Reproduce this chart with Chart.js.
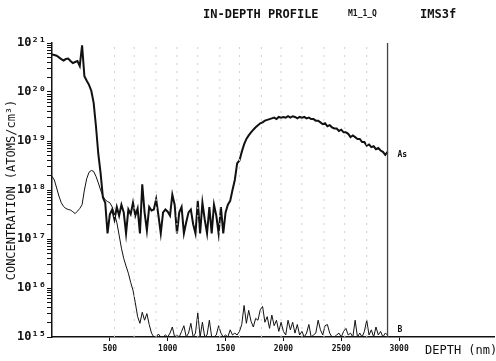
<!DOCTYPE html>
<html>
<head>
<meta charset="UTF-8">
<title>IN-DEPTH PROFILE</title>
<script src="https://cdn.jsdelivr.net/npm/chart.js"></script>
<style>
  body { margin: 0; background: #fff; }
  #wrap { position: relative; width: 496px; height: 361px; }
  .txt { position: absolute; font-family: 'DejaVu Sans Mono', monospace; color: #111; white-space: nowrap; line-height: 1; }
  #t1 { left: 203px; top: 8px; font-size: 12px; font-weight: bold; }
  #t2 { left: 348px; top: 10px; font-size: 8px; font-weight: bold; }
  #t3 { left: 420px; top: 8px; font-size: 12px; font-weight: bold; }
  #xt { left: 425px; top: 344px; font-size: 12px; }
</style>
</head>
<body>
<div id="wrap">
  <canvas id="profile"></canvas>
  <div class="txt" id="t1">IN-DEPTH PROFILE</div>
  <div class="txt" id="t2">M1_1_Q</div>
  <div class="txt" id="t3">IMS3f</div>
  <div class="txt" id="xt">DEPTH (nm)</div>
</div>

<script>
  // depth grid (nm), 20 nm steps
  const depth = [
    0, 20, 40, 60, 80, 100, 120, 140, 160, 180,
    200, 220, 240, 260, 280, 300, 320, 340, 360, 380,
    400, 420, 440, 460, 480, 500, 520, 540, 560, 580,
    600, 620, 640, 660, 680, 700, 720, 740, 760, 780,
    800, 820, 840, 860, 880, 900, 920, 940, 960, 980,
    1000, 1020, 1040, 1060, 1080, 1100, 1120, 1140, 1160, 1180,
    1200, 1220, 1240, 1260, 1280, 1300, 1320, 1340, 1360, 1380,
    1400, 1420, 1440, 1460, 1480, 1500, 1520, 1540, 1560, 1580,
    1600, 1620, 1640, 1660, 1680, 1700, 1720, 1740, 1760, 1780,
    1800, 1820, 1840, 1860, 1880, 1900, 1920, 1940, 1960, 1980,
    2000, 2020, 2040, 2060, 2080, 2100, 2120, 2140, 2160, 2180,
    2200, 2220, 2240, 2260, 2280, 2300, 2320, 2340, 2360, 2380,
    2400, 2420, 2440, 2460, 2480, 2500, 2520, 2540, 2560, 2580,
    2600, 2620, 2640, 2660, 2680, 2700, 2720, 2740, 2760, 2780,
    2800, 2820, 2840, 2860, 2880, 2900
  ];

  // As concentration (atoms/cm3)
  const arsenic = [
    5.8e20, 5.7e20, 5.5e20, 5.1e20, 4.7e20, 4.4e20, 4.7e20, 4.8e20, 4.3e20, 3.9e20,
    4.1e20, 4.3e20, 3.4e20, 9.0e20, 2.1e20, 1.7e20, 1.4e20, 1.05e20, 6.0e19, 2.0e19,
    5.5e18, 2.2e18, 7.0e17, 5.5e17, 1.3e17, 3.2e17, 4.0e17, 2.5e17, 4.5e17, 3.0e17,
    5.0e17, 3.5e17, 1.3e17, 4.0e17, 3.2e17, 5.5e17, 3.0e17, 4.2e17, 1.3e17, 1.3e18,
    3.5e17, 1.5e17, 4.5e17, 3.8e17, 4.0e17, 6.5e17, 3.0e17, 1.3e17, 3.5e17, 4.0e17,
    3.6e17, 3.0e17, 8.0e17, 5.0e17, 1.3e17, 3.5e17, 4.5e17, 1.3e17, 2.2e17, 3.5e17,
    4.0e17, 2.0e17, 1.3e17, 6.0e17, 1.3e17, 5.5e17, 2.5e17, 1.3e17, 4.5e17, 1.3e17,
    5.0e17, 3.0e17, 1.3e17, 4.5e17, 1.3e17, 3.5e17, 5.0e17, 6.0e17, 1.0e18, 1.6e18,
    3.5e18, 4.0e18, 6.0e18, 8.5e18, 1.1e19, 1.3e19, 1.5e19, 1.7e19, 1.9e19, 2.1e19,
    2.3e19, 2.4e19, 2.6e19, 2.7e19, 2.8e19, 2.9e19, 3.0e19, 2.8e19, 3.1e19, 3.0e19,
    3.1e19, 3.0e19, 3.2e19, 3.0e19, 3.2e19, 3.1e19, 2.9e19, 3.1e19, 3.0e19, 3.1e19,
    2.9e19, 3.0e19, 2.8e19, 2.8e19, 2.6e19, 2.6e19, 2.4e19, 2.2e19, 2.3e19, 2.0e19,
    2.1e19, 1.9e19, 1.8e19, 1.8e19, 1.6e19, 1.7e19, 1.5e19, 1.5e19, 1.4e19, 1.2e19,
    1.3e19, 1.2e19, 1.1e19, 1.1e19, 9.5e18, 9.5e18, 8.0e18, 8.5e18, 7.5e18, 7.8e18,
    6.8e18, 7.2e18, 6.4e18, 6.0e18, 5.2e18, 6.0e18
  ];

  // B concentration (atoms/cm3)
  const boron = [
    1.9e18, 1.6e18, 1.1e18, 7.5e17, 5.5e17, 4.6e17, 4.2e17, 4.0e17, 3.9e17, 3.6e17,
    3.3e17, 3.7e17, 4.2e17, 5.0e17, 1.0e18, 1.7e18, 2.3e18, 2.5e18, 2.4e18, 1.9e18,
    1.4e18, 1.0e18, 7.5e17, 6.3e17, 5.8e17, 5.5e17, 4.5e17, 3.2e17, 2.2e17, 1.2e17,
    6.5e16, 4.0e16, 2.8e16, 2.0e16, 1.3e16, 9.0e15, 5.0e15, 2.6e15, 1.9e15, 3.2e15,
    2.2e15, 3.0e15, 1.8e15, 1.2e15, 1.0e15, 1.0e15, 1.15e15, 1.0e15, 1.0e15, 1.1e15,
    1.0e15, 1.2e15, 1.6e15, 1.0e15, 1.1e15, 1.0e15, 1.3e15, 1.7e15, 1.0e15, 1.2e15,
    1.9e15, 1.0e15, 1.2e15, 3.1e15, 1.0e15, 2.0e15, 1.0e15, 1.1e15, 2.2e15, 1.0e15,
    1.0e15, 1.1e15, 1.7e15, 1.2e15, 1.0e15, 1.1e15, 1.0e15, 1.4e15, 1.1e15, 1.2e15,
    1.1e15, 1.3e15, 1.8e15, 4.4e15, 1.9e15, 3.5e15, 2.1e15, 1.6e15, 2.4e15, 2.2e15,
    3.6e15, 4.2e15, 2.0e15, 2.6e15, 1.5e15, 2.8e15, 1.7e15, 2.2e15, 1.3e15, 2.0e15,
    1.3e15, 1.1e15, 2.2e15, 1.4e15, 2.0e15, 1.2e15, 1.8e15, 1.1e15, 1.3e15, 1.0e15,
    1.2e15, 1.8e15, 1.0e15, 1.1e15, 1.2e15, 2.2e15, 1.4e15, 1.1e15, 1.7e15, 1.8e15,
    1.2e15, 1.0e15, 1.0e15, 1.1e15, 1.2e15, 1.0e15, 1.3e15, 1.5e15, 1.1e15, 1.2e15,
    1.0e15, 2.2e15, 1.0e15, 1.2e15, 1.0e15, 1.3e15, 2.2e15, 1.1e15, 1.4e15, 1.0e15,
    1.6e15, 1.1e15, 1.3e15, 1.0e15, 1.2e15, 1.1e15
  ];

  const xTicks = [500, 1000, 1500, 2000, 2500, 3000];
  const yDecades = [15, 16, 17, 18, 19, 20, 21];
  const yMinor = [2, 3, 4, 5, 6, 7, 8, 9];
  const endDepth = 2900;
  // faint vertical dotted traces of the plotter
  const traceDepths = [540, 710, 900, 1080, 1260, 1450, 1620, 1810, 1980, 2160, 2350, 2530, 2720];

  const sup = { '0': '⁰', '1': '¹', '2': '²', '3': '³', '4': '⁴', '5': '⁵', '6': '⁶', '7': '⁷', '8': '⁸', '9': '⁹' };
  const toSup = n => String(n).split('').map(c => sup[c]).join('');

  const pts = arr => arr.map((v, i) => ({ x: depth[i], y: v }));

  const yTickList = [];
  yDecades.forEach(e => {
    yTickList.push({ value: Math.pow(10, e), major: true });
    if (e < 21) yMinor.forEach(m => yTickList.push({ value: m * Math.pow(10, e) }));
  });

  const traceSets = traceDepths.map(d => ({
    data: [{ x: d, y: 1e15 }, { x: d, y: 1e21 }],
    borderColor: '#cfcfcf',
    borderWidth: 1,
    borderDash: [2, 6],
    pointRadius: 0
  }));

  // series names next to the last point
  const endLabels = {
    id: 'endLabels',
    afterDatasetsDraw(chart) {
      const ctx = chart.ctx;
      ctx.save();
      ctx.font = 'bold 8px "DejaVu Sans Mono"';
      ctx.fillStyle = '#111';
      ctx.textBaseline = 'middle';
      chart.data.datasets.forEach((ds, i) => {
        if (!ds.tag) return;
        const meta = chart.getDatasetMeta(i);
        const last = meta.data[meta.data.length - 1];
        ctx.fillText(ds.tag, last.x + 10, last.y + ds.tagDy);
      });
      ctx.restore();
    }
  };

  new Chart(document.getElementById('profile'), {
    type: 'line',
    data: {
      datasets: [
        ...traceSets,
        {
          data: [{ x: endDepth, y: 1e15 }, { x: endDepth, y: 1e21 }],
          borderColor: '#444',
          borderWidth: 1.3,
          pointRadius: 0
        },
        {
          tag: 'As', tagDy: 3,
          data: pts(arsenic),
          borderColor: '#111',
          borderWidth: 2,
          pointRadius: 0,
          tension: 0
        },
        {
          tag: 'B', tagDy: -5,
          data: pts(boron),
          borderColor: '#111',
          borderWidth: 1,
          pointRadius: 0,
          tension: 0
        }
      ]
    },
    options: {
      responsive: true,
      maintainAspectRatio: false,
      animation: false,
      layout: { padding: { top: 43, right: 2, left: 0, bottom: 0 } },
      plugins: {
        legend: { display: false },
        tooltip: { enabled: false }
      },
      scales: {
        x: {
          type: 'linear',
          min: 0,
          max: 3820,
          afterBuildTicks: axis => { axis.ticks = xTicks.map(v => ({ value: v })); },
          afterFit: axis => { axis.height = 24; },
          border: { color: '#111', width: 1.5 },
          grid: { drawOnChartArea: false, color: '#111', tickLength: 4 },
          ticks: {
            color: '#111',
            padding: 3,
            maxRotation: 0,
            font: { family: 'DejaVu Sans Mono', size: 8, weight: 'bold' },
            callback: v => String(v)
          }
        },
        y: {
          type: 'logarithmic',
          min: 1e15,
          max: 1e21,
          afterBuildTicks: axis => { axis.ticks = yTickList.map(t => ({ ...t })); },
          afterFit: axis => { axis.width = 52; },
          border: { color: '#111', width: 1.5 },
          grid: { drawOnChartArea: false, color: '#111', tickLength: 5 },
          title: {
            display: true,
            text: 'CONCENTRATION (ATOMS/cm³)',
            color: '#111',
            padding: { top: 5, bottom: 2 },
            font: { family: 'DejaVu Sans Mono', size: 12 }
          },
          ticks: {
            autoSkip: false,
            color: '#111',
            padding: 1,
            font: { family: 'DejaVu Sans Mono', size: 12, weight: 'bold' },
            callback: v => {
              const e = Math.log10(v);
              return Math.abs(e - Math.round(e)) < 1e-6 ? '10' + toSup(Math.round(e)) : '';
            }
          }
        }
      }
    },
    plugins: [endLabels]
  });
</script>
</body>
</html>
